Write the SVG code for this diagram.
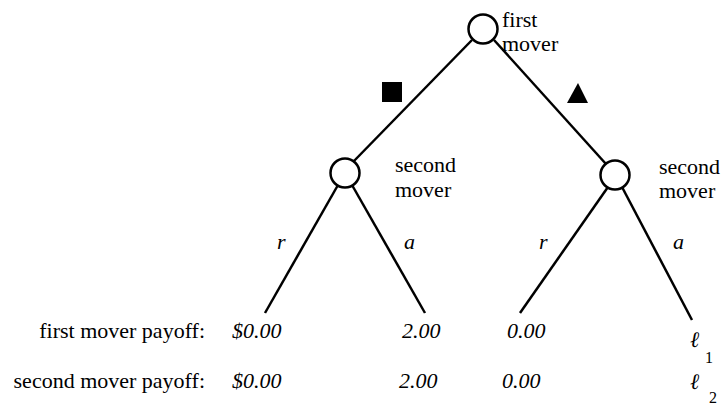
<svg xmlns="http://www.w3.org/2000/svg" width="722" height="407" viewBox="0 0 722 407">
<style>
text{font-family:"Liberation Serif","Times New Roman",serif;font-size:22px;fill:#000}
.i{font-style:italic}
.sub{font-size:16px}
.edge{stroke:#000;stroke-width:2.5;fill:none}
.node{stroke:#000;stroke-width:2.5;fill:#fff}
</style>
<rect width="722" height="407" fill="#fff"/>
<g id="connectors">
<line class="edge" x1="472" y1="40" x2="353" y2="162"/>
<line class="edge" x1="494" y1="40" x2="606" y2="164"/>
<line class="edge" x1="338" y1="185" x2="265" y2="313"/>
<line class="edge" x1="352" y1="185" x2="425" y2="313"/>
<line class="edge" x1="608" y1="187" x2="520" y2="313"/>
<line class="edge" x1="622" y1="187" x2="692" y2="320"/>
</g>
<g id="edge-labels">
<rect x="382" y="82" width="20" height="20" fill="#000"/>
<polygon points="578,83 588,103 567,103" fill="#000"/>
<text class="i" x="277" y="249">r</text>
<text class="i" x="404" y="249">a</text>
<text class="i" x="539" y="249">r</text>
<text class="i" x="673" y="249">a</text>
</g>
<g id="first-mover">
<circle class="node" cx="483" cy="29" r="14.5"/>
<text x="502" y="27">first</text>
<text x="502" y="51">mover</text>
</g>
<g id="second-mover-left">
<circle class="node" cx="345" cy="173" r="14.5"/>
<text x="395" y="172">second</text>
<text x="395" y="197">mover</text>
</g>
<g id="second-mover-right">
<circle class="node" cx="615" cy="175" r="14.5"/>
<text x="659" y="174">second</text>
<text x="659" y="198">mover</text>
</g>
<g id="payoffs">
<text x="205" y="338" text-anchor="end">first mover payoff:</text>
<text x="205" y="388" text-anchor="end">second mover payoff:</text>
<text class="i" x="232" y="338">$0.00</text>
<text class="i" x="402" y="338">2.00</text>
<text class="i" x="507" y="338">0.00</text>
<text class="i" x="690" y="347">ℓ</text>
<text class="sub" x="705" y="363">1</text>
<text class="i" x="232" y="388">$0.00</text>
<text class="i" x="399" y="388">2.00</text>
<text class="i" x="502" y="388">0.00</text>
<text class="i" x="690" y="389">ℓ</text>
<text class="sub" x="709" y="403">2</text>
</g>
</svg>
